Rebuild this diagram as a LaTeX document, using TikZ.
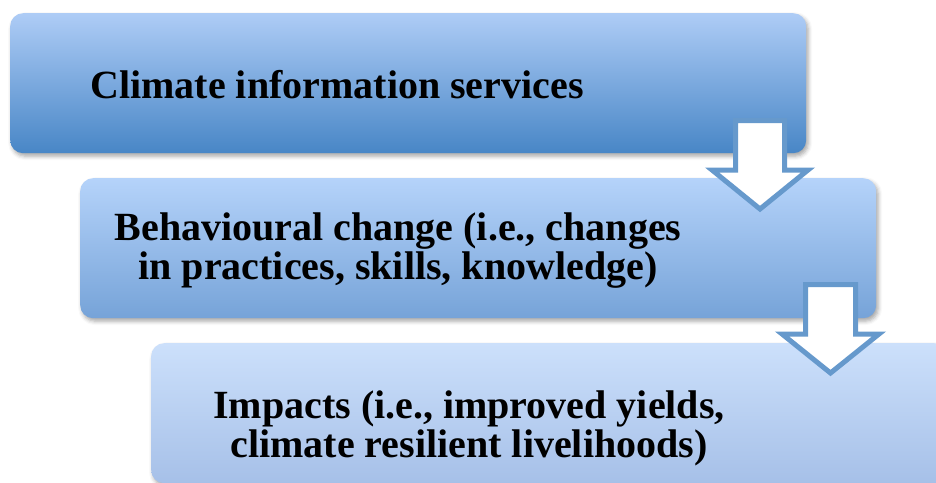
\documentclass[tikz,border=0pt]{standalone}
\usepackage{fontspec}
\setmainfont{Liberation Serif}
\usetikzlibrary{shadows.blur}
\definecolor{aTop}{HTML}{AECCF6}
\definecolor{aBot}{HTML}{4886C6}
\definecolor{bTop}{HTML}{B5D3FA}
\definecolor{bBot}{HTML}{76A3D8}
\definecolor{cTop}{HTML}{CCE0FB}
\definecolor{cBot}{HTML}{A6C0E8}
\definecolor{arrowline}{HTML}{6699CC}
\tikzset{
  stepbox/.style={rectangle, rounded corners=13pt, inner sep=0pt,
    minimum width=796pt, minimum height=140pt, anchor=north west,
    blur shadow={shadow xshift=2pt, shadow yshift=-3pt, shadow blur radius=4pt, shadow opacity=35}},
  label/.style={align=center, anchor=base, inner sep=0pt,
    font=\fontsize{40}{39}\selectfont\bfseries},
  downarrow/.style={draw=arrowline, fill=white, line width=5pt, line join=miter}
}
\begin{document}
\begin{tikzpicture}[x=1pt, y=-1pt]
\useasboundingbox (0,0) rectangle (936,482);
\node[stepbox, top color=aTop, bottom color=aBot] (b1) at (10,13) {};
\node[stepbox, top color=bTop, bottom color=bBot] (b2) at (80,178) {};
\node[stepbox, top color=cTop, bottom color=cBot] (b3) at (151,343) {};
\node[label] (t1) at (337,98) {Climate information services};
\node[label] (t2) at (398,279) {Behavioural change (i.e., changes\\in practices, skills, knowledge)};
\node[label] (t3) at (469,457) {Impacts (i.e., improved yields,\\climate resilient livelihoods)};
\draw[downarrow] (735.5,120.5) -- (784.5,120.5) -- (784.5,170) -- (808,170) -- (760,209)
  -- (712,170) -- (735.5,170) -- cycle;
\draw[downarrow] (805.5,284.5) -- (855.5,284.5) -- (855.5,334) -- (879,334) -- (830.5,373)
  -- (782,334) -- (805.5,334) -- cycle;
\end{tikzpicture}
\end{document}
